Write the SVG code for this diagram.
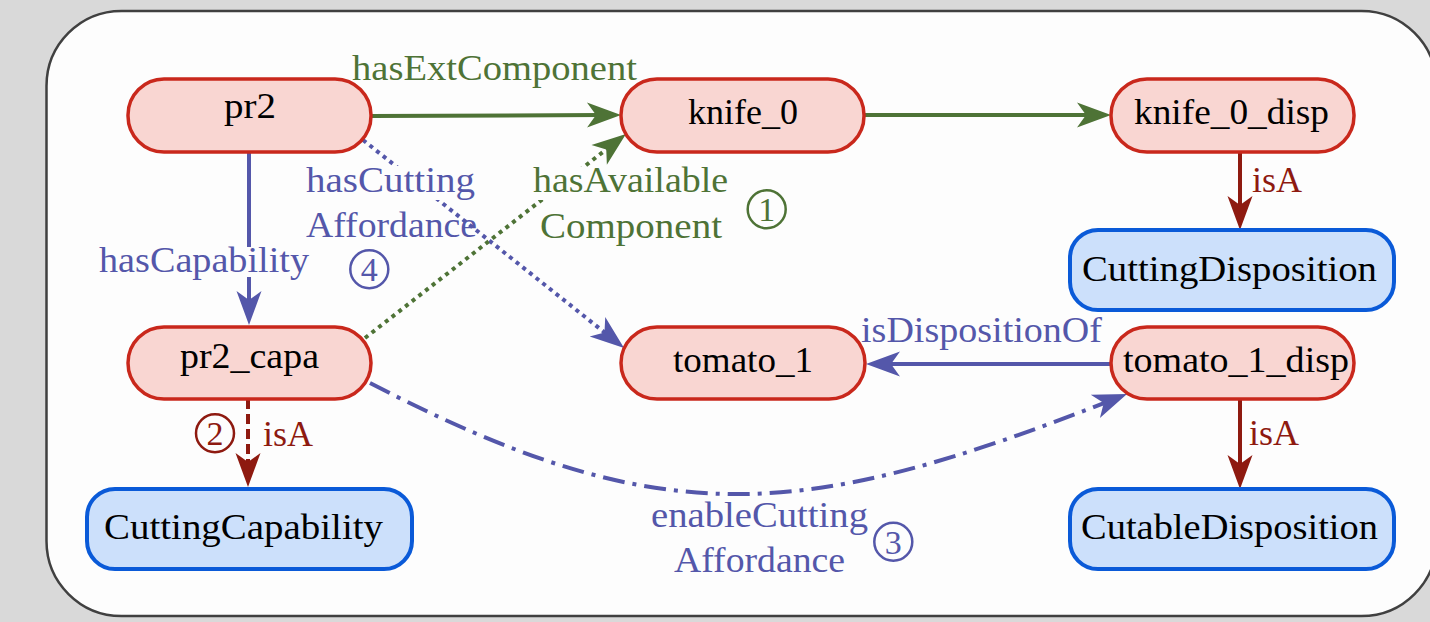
<svg xmlns="http://www.w3.org/2000/svg" width="1430" height="622" viewBox="0 0 1430 622">
<style>
text{font-family:"Liberation Serif","Times New Roman",serif;font-size:36px;text-anchor:middle}
.nl{fill:#000}
.g{fill:#4e7336}
.b{fill:#5457aa}
.r{fill:#8e1a10}
.rn{fill:#f9d6d2;stroke:#c9281c;stroke-width:3.5}
.bn{fill:#cce0fb;stroke:#0a5ad8;stroke-width:4}
.e{fill:none;stroke-width:4}
.eg{stroke:#4e7336}
.eb{stroke:#5457aa}
.er{stroke:#8e1a10}
.num{font-size:34px}
.circ{fill:none;stroke-width:2.5}
</style>
<defs>
<marker id="ag" markerUnits="userSpaceOnUse" markerWidth="42" markerHeight="30" refX="20" refY="15" orient="auto"><path d="M40,15 L6,2.5 L15,15 L6,27.5 Z" fill="#4e7336"/></marker>
<marker id="ab" markerUnits="userSpaceOnUse" markerWidth="42" markerHeight="30" refX="20" refY="15" orient="auto"><path d="M40,15 L6,2.5 L15,15 L6,27.5 Z" fill="#5457aa"/></marker>
<marker id="ar" markerUnits="userSpaceOnUse" markerWidth="42" markerHeight="30" refX="20" refY="15" orient="auto"><path d="M40,15 L6,2.5 L15,15 L6,27.5 Z" fill="#8e1a10"/></marker>
</defs>
<rect x="0" y="0" width="1430" height="622" fill="#d9d9d9"/>
<rect x="46.5" y="11" width="1390" height="605" rx="75" ry="75" fill="#fdfdfd" stroke="#404040" stroke-width="2.5"/>
<g id="connectors">
<path class="e eg" d="M371,116 L601,115" marker-end="url(#ag)"/>
<path class="e eg" d="M864,115 L1091,115" marker-end="url(#ag)"/>
<path class="e eb" d="M249,152 L249,305" marker-end="url(#ab)"/>
<path class="e eb" d="M363,140 L608.4,335.5" stroke-dasharray="4 4.5" marker-end="url(#ab)"/>
<path class="e eg" d="M365,338 L610.2,146.3" stroke-dasharray="4 4.5" marker-end="url(#ag)"/>
<path class="e eb" d="M370,383 C661,534 800,522 1108.4,401.3" stroke-dasharray="22 8 4 8" marker-end="url(#ab)"/>
<path class="e eb" d="M1111,364 L886,364" marker-end="url(#ab)"/>
<path class="e er" d="M1240,152 L1240,210" marker-end="url(#ar)"/>
<path class="e er" d="M1240,399 L1240,469" marker-end="url(#ar)"/>
<path class="e er" d="M248,399 L248,467" stroke-dasharray="10 5" marker-end="url(#ar)"/>
<rect x="302" y="166" width="178" height="34" fill="#fdfdfd"/>
<rect x="530" y="167" width="207" height="33" fill="#fdfdfd"/>
<rect x="97" y="247" width="214" height="30" fill="#fdfdfd"/>
<text class="g" x="494.5" y="80" textLength="285" lengthAdjust="spacingAndGlyphs">hasExtComponent</text>
<text class="b" x="390.5" y="192" textLength="169" lengthAdjust="spacingAndGlyphs">hasCutting</text>
<text class="b" x="391.5" y="237" textLength="171" lengthAdjust="spacingAndGlyphs">Affordance</text>
<text class="b" x="204" y="272" textLength="210" lengthAdjust="spacingAndGlyphs">hasCapability</text>
<text class="g" x="630.5" y="192" textLength="195" lengthAdjust="spacingAndGlyphs">hasAvailable</text>
<text class="g" x="631" y="238" textLength="182" lengthAdjust="spacingAndGlyphs">Component</text>
<text class="r" x="1277" y="192" textLength="50" lengthAdjust="spacingAndGlyphs">isA</text>
<text class="b" x="981.5" y="342" textLength="241" lengthAdjust="spacingAndGlyphs">isDispositionOf</text>
<text class="r" x="288" y="446" textLength="50" lengthAdjust="spacingAndGlyphs">isA</text>
<text class="r" x="1274" y="445" textLength="50" lengthAdjust="spacingAndGlyphs">isA</text>
<text class="b" x="759.5" y="527" textLength="217" lengthAdjust="spacingAndGlyphs">enableCutting</text>
<text class="b" x="759.5" y="572" textLength="171" lengthAdjust="spacingAndGlyphs">Affordance</text>
<circle class="circ" cx="766.7" cy="209.3" r="19" stroke="#4e7336"/>
<text class="g num" x="766.7" y="221.3">1</text>
<circle class="circ" cx="215" cy="433.3" r="19" stroke="#8e1a10"/>
<text class="r num" x="215" y="445.3">2</text>
<circle class="circ" cx="893.3" cy="541.7" r="19" stroke="#5457aa"/>
<text class="b num" x="893.3" y="553.7">3</text>
<circle class="circ" cx="369.3" cy="269.3" r="19" stroke="#5457aa"/>
<text class="b num" x="369.3" y="281.3">4</text>
</g>
<g id="pr2"><rect class="rn" x="128" y="79" width="243" height="73" rx="36"/><text class="nl" x="250" y="118" textLength="52" lengthAdjust="spacingAndGlyphs">pr2</text></g>
<g id="knife_0"><rect class="rn" x="621" y="79" width="243" height="73" rx="36"/><text class="nl" x="743" y="124" textLength="110" lengthAdjust="spacingAndGlyphs">knife_0</text></g>
<g id="knife_0_disp"><rect class="rn" x="1111" y="79" width="243" height="73" rx="36"/><text class="nl" x="1231.5" y="124" textLength="195" lengthAdjust="spacingAndGlyphs">knife_0_disp</text></g>
<g id="CuttingDisposition"><rect class="bn" x="1070" y="230" width="324" height="80" rx="28"/><text class="nl" x="1229.5" y="281" textLength="295" lengthAdjust="spacingAndGlyphs">CuttingDisposition</text></g>
<g id="pr2_capa"><rect class="rn" x="128" y="327" width="243" height="72" rx="36"/><text class="nl" x="249.5" y="368" textLength="139" lengthAdjust="spacingAndGlyphs">pr2_capa</text></g>
<g id="CuttingCapability"><rect class="bn" x="87" y="489" width="325" height="80" rx="28"/><text class="nl" x="243.5" y="539" textLength="279" lengthAdjust="spacingAndGlyphs">CuttingCapability</text></g>
<g id="tomato_1"><rect class="rn" x="621" y="327" width="244" height="72" rx="36"/><text class="nl" x="743" y="372" textLength="140" lengthAdjust="spacingAndGlyphs">tomato_1</text></g>
<g id="tomato_1_disp"><rect class="rn" x="1111" y="327" width="243" height="72" rx="36"/><text class="nl" x="1236" y="372" textLength="226" lengthAdjust="spacingAndGlyphs">tomato_1_disp</text></g>
<g id="CutableDisposition"><rect class="bn" x="1070" y="489" width="324" height="80" rx="28"/><text class="nl" x="1229.5" y="539" textLength="297" lengthAdjust="spacingAndGlyphs">CutableDisposition</text></g>
</svg>
